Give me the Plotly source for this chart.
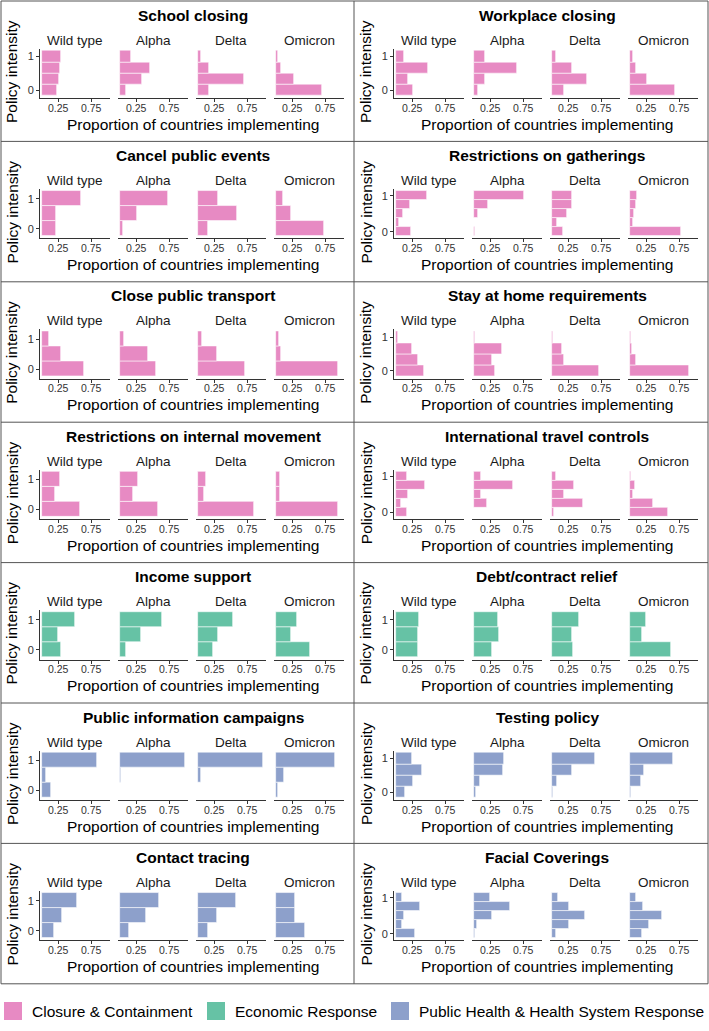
import plotly.graph_objects as go

W, H = 709, 1031

variants = ["Wild type", "Alpha", "Delta", "Omicron"]
groups = ["Closure & Containment", "Economic Response", "Public Health & Health System Response"]
group_colors = ["#E78AC3", "#66C2A5", "#8DA0CB"]
x_ticks = [0.25, 0.75]
x_tick_labels = ["0.25", "0.75"]

# proportion of countries at each policy level, lowest level first, one list per variant
school_closing = [[0.235, 0.26, 0.275, 0.30], [0.10, 0.34, 0.46, 0.165],
                  [0.165, 0.70, 0.175, 0.05], [0.705, 0.28, 0.08, 0.04]]
workplace_closing = [[0.27, 0.185, 0.495, 0.125], [0.065, 0.165, 0.65, 0.165],
                     [0.185, 0.535, 0.315, 0.06], [0.69, 0.265, 0.095, 0.045]]
cancel_public_events = [[0.22, 0.22, 0.595], [0.055, 0.265, 0.735],
                        [0.16, 0.60, 0.315], [0.735, 0.225, 0.115]]
restrictions_gatherings = [[0.235, 0.05, 0.11, 0.21, 0.47], [0.025, 0.005, 0.065, 0.215, 0.76],
                           [0.165, 0.085, 0.225, 0.315, 0.315], [0.775, 0.055, 0.06, 0.09, 0.11]]
close_public_transport = [[0.645, 0.30, 0.11], [0.555, 0.435, 0.065],
                          [0.715, 0.29, 0.065], [0.94, 0.085, 0.05]]
stay_at_home = [[0.435, 0.335, 0.245, 0.04], [0.32, 0.28, 0.43, 0.02],
                [0.715, 0.19, 0.15, 0.025], [0.905, 0.095, 0.04, 0.02]]
internal_movement = [[0.575, 0.195, 0.28], [0.575, 0.20, 0.275],
                     [0.855, 0.09, 0.13], [0.94, 0.065, 0.07]]
international_travel = [[0.17, 0.085, 0.185, 0.45, 0.175], [0.01, 0.2, 0.115, 0.595, 0.115],
                        [0.03, 0.47, 0.185, 0.34, 0.06], [0.575, 0.355, 0.055, 0.085, 0.02]]
income_support = [[0.295, 0.255, 0.50], [0.09, 0.32, 0.635],
                  [0.225, 0.315, 0.535], [0.525, 0.225, 0.32]]
debt_relief = [[0.335, 0.34, 0.35], [0.275, 0.385, 0.375],
               [0.32, 0.315, 0.41], [0.62, 0.185, 0.24]]
public_info = [[0.135, 0.07, 0.84], [0.0, 0.015, 0.99],
               [0.0, 0.05, 0.99], [0.03, 0.125, 0.905]]
testing_policy = [[0.135, 0.27, 0.40, 0.25], [0.03, 0.10, 0.45, 0.465],
                  [0.015, 0.085, 0.31, 0.655], [0.02, 0.175, 0.22, 0.65]]
contact_tracing = [[0.18, 0.31, 0.54], [0.14, 0.40, 0.60],
                   [0.15, 0.30, 0.58], [0.44, 0.30, 0.30]]
facial_coverings = [[0.30, 0.10, 0.13, 0.37, 0.10], [0.02, 0.05, 0.28, 0.55, 0.24],
                    [0.06, 0.27, 0.50, 0.27, 0.10], [0.18, 0.30, 0.49, 0.20, 0.10]]

panels = [
    ("School closing", school_closing, 0),
    ("Workplace closing", workplace_closing, 0),
    ("Cancel public events", cancel_public_events, 0),
    ("Restrictions on gatherings", restrictions_gatherings, 0),
    ("Close public transport", close_public_transport, 0),
    ("Stay at home requirements", stay_at_home, 0),
    ("Restrictions on internal movement", internal_movement, 0),
    ("International travel controls", international_travel, 0),
    ("Income support", income_support, 1),
    ("Debt/contract relief", debt_relief, 1),
    ("Public information campaigns", public_info, 2),
    ("Testing policy", testing_policy, 2),
    ("Contact tracing", contact_tracing, 2),
    ("Facial Coverings", facial_coverings, 2),
]

FONT = "Liberation Sans, Arial, Helvetica, sans-serif"
AX = "#333333"


def px(x):
    return x / W


def py(y):
    return 1 - y / H


fig = go.Figure()
layout = {}
annotations = []
shapes = []

row_h = 140.4
col_left = [0, 354]
sub_x = [(40, 110), (118, 188), (196, 266), (274, 344)]

k = 0
for i, (title, data, g) in enumerate(panels):
    r, c = divmod(i, 2)
    L = col_left[c]
    T = 1 + r * row_h
    n = len(data[0])
    bw = 1 / (n - 1)
    levels = [j * bw for j in range(n)]
    lo, hi = -bw / 2, 1 + bw / 2
    pad = 0.05 * (hi - lo)
    for v, name in enumerate(variants):
        k += 1
        xa = "x" if k == 1 else f"x{k}"
        ya = "y" if k == 1 else f"y{k}"
        fig.add_trace(go.Bar(
            x=data[v], y=levels, orientation="h", width=bw,
            marker=dict(color=group_colors[g], line=dict(color="rgba(255,255,255,0.8)", width=0.7)),
            xaxis=xa, yaxis=ya, showlegend=False, hoverinfo="x+y",
        ))
        x0, x1 = sub_x[v]
        first = v == 0
        layout["xaxis" if k == 1 else f"xaxis{k}"] = dict(
            domain=[px(L + x0), px(L + x1)], anchor=ya, range=[-0.025, 1.035],
            tickvals=x_ticks, ticktext=x_tick_labels, showline=True, linecolor=AX, linewidth=1,
            ticks="outside", ticklen=3, tickcolor=AX, showgrid=False, zeroline=False,
            ticklabelstandoff=-3,
            tickfont=dict(size=10.5, color="#333333", family=FONT), fixedrange=True,
        )
        layout["yaxis" if k == 1 else f"yaxis{k}"] = dict(
            domain=[py(T + 97), py(T + 47.5)], anchor=xa, range=[lo - pad, hi + pad],
            tickvals=[0, 1], ticktext=["0", "1"], showline=first, linecolor=AX, linewidth=1,
            ticks="outside" if first else "", ticklen=3, tickcolor=AX,
            showticklabels=first, showgrid=False, zeroline=False,
            tickfont=dict(size=11, color="#333333", family=FONT), fixedrange=True,
        )
        annotations.append(dict(
            text=name, x=px(L + (x0 + x1) / 2), y=py(T + 39), xref="paper", yref="paper",
            showarrow=False, font=dict(size=13.5, color="#1a1a1a", family=FONT),
            xanchor="center", yanchor="middle",
        ))
    annotations.append(dict(
        text="<b>" + title + "</b>", x=px(L + 193), y=py(T + 14), xref="paper", yref="paper",
        showarrow=False, font=dict(size=15.5, color="#000000", family=FONT),
        xanchor="center", yanchor="middle",
    ))
    annotations.append(dict(
        text="Proportion of countries implementing", x=px(L + 193), y=py(T + 123),
        xref="paper", yref="paper", showarrow=False,
        font=dict(size=15.5, color="#000000", family=FONT), xanchor="center", yanchor="middle",
    ))
    annotations.append(dict(
        text="Policy intensity", x=px(L + 12), y=py(T + 71), xref="paper", yref="paper",
        showarrow=False, textangle=-90, font=dict(size=15.5, color="#000000", family=FONT),
        xanchor="center", yanchor="middle",
    ))

# panel borders
grid_bottom = 1 + 7 * row_h
for xv in [1, 354, 708]:
    shapes.append(dict(type="line", xref="paper", yref="paper", x0=px(xv), x1=px(xv),
                       y0=py(1), y1=py(grid_bottom), line=dict(color="#555555", width=1)))
for r in range(8):
    yv = 1 + r * row_h
    shapes.append(dict(type="line", xref="paper", yref="paper", x0=px(1), x1=px(708),
                       y0=py(yv), y1=py(yv), line=dict(color="#555555", width=1)))

# legend
leg_x = [4, 207, 391]
for gx, name, col in zip(leg_x, groups, group_colors):
    shapes.append(dict(type="rect", xref="paper", yref="paper", x0=px(gx), x1=px(gx + 18),
                       y0=py(1020), y1=py(1002), fillcolor=col, line=dict(width=0)))
    annotations.append(dict(text=name, x=px(gx + 26), y=py(1011), xref="paper", yref="paper",
                            showarrow=False, xanchor="left", yanchor="middle",
                            font=dict(size=15.5, color="#000000", family=FONT)))

fig.update_layout(
    width=W, height=H, margin=dict(l=0, r=0, t=0, b=0),
    paper_bgcolor="white", plot_bgcolor="white",
    annotations=annotations, shapes=shapes, bargap=0,
    font=dict(family=FONT), **layout,
)

fig.write_html("out.html", config={"displayModeBar": False},
               post_script="document.body.style.margin='0px';")
